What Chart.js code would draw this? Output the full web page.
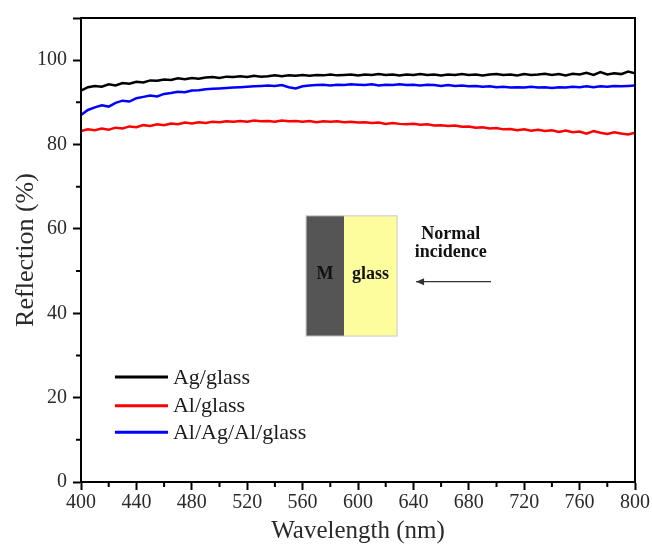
<!DOCTYPE html>
<html lang="en">
<head>
    <meta charset="UTF-8">
    <title>Reflection spectra</title>
    <script src="https://cdn.jsdelivr.net/npm/chart.js"></script>
    <style>
        body { margin: 0; background: #fff; }
        #chart { display: block; }
    </style>
</head>
<body>
    <canvas id="chart" width="652" height="546"></canvas>
    <script>
        // wavelength grid (nm)
        const wavelength = [
            400, 405, 410, 415, 420, 425, 430, 435, 440, 445, 450, 455, 460, 465, 470, 475, 480, 485, 490, 495,
            500, 505, 510, 515, 520, 525, 530, 535, 540, 545, 550, 555, 560, 565, 570, 575, 580, 585, 590, 595,
            600, 605, 610, 615, 620, 625, 630, 635, 640, 645, 650, 655, 660, 665, 670, 675, 680, 685, 690, 695,
            700, 705, 710, 715, 720, 725, 730, 735, 740, 745, 750, 755, 760, 765, 770, 775, 780, 785, 790, 795, 800
        ];

        const agGlass = [
            92.8, 93.6, 93.9, 93.7, 94.3, 94.0, 94.6, 94.4, 94.9, 94.7, 95.2, 95.1, 95.4, 95.3, 95.7, 95.5, 95.8, 95.6, 95.9, 96.0,
            95.8, 96.1, 96.0, 96.2, 96.0, 96.3, 96.1, 96.2, 96.4, 96.2, 96.4, 96.3, 96.5, 96.3, 96.5, 96.4, 96.6, 96.4, 96.5, 96.6,
            96.4, 96.6, 96.5, 96.7, 96.5, 96.6, 96.4, 96.6, 96.5, 96.7, 96.5, 96.6, 96.4, 96.6, 96.5, 96.7, 96.5, 96.6, 96.4, 96.6,
            96.7, 96.5, 96.6, 96.4, 96.7, 96.5, 96.6, 96.8, 96.5, 96.7, 96.4, 96.8, 96.6, 97.0, 96.5, 97.2, 96.6, 96.9, 96.7, 97.3, 96.9
        ];

        const alGlass = [
            83.2, 83.6, 83.4, 83.8, 83.5, 84.0, 83.8, 84.3, 84.1, 84.6, 84.4, 84.8, 84.6, 85.0, 84.8, 85.2, 85.0, 85.3, 85.1, 85.4,
            85.3, 85.5, 85.4, 85.6, 85.4, 85.7, 85.5, 85.6, 85.4, 85.7, 85.5, 85.6, 85.4, 85.6, 85.3, 85.5, 85.4, 85.5, 85.3, 85.4,
            85.2, 85.3, 85.1, 85.2, 84.9, 85.1, 84.9, 84.8, 84.9, 84.7, 84.8, 84.5, 84.6, 84.4, 84.5, 84.2, 84.3, 84.0, 84.1, 83.8,
            83.9, 83.6, 83.7, 83.4, 83.6, 83.3, 83.5, 83.2, 83.4, 83.0, 83.3, 82.9, 83.1, 82.6, 83.2, 82.8, 82.5, 82.9, 82.6, 82.4, 82.8
        ];

        const alAgAlGlass = [
            87.0, 88.2, 88.8, 89.3, 89.0, 89.9, 90.4, 90.2, 91.0, 91.3, 91.6, 91.4, 92.0, 92.2, 92.5, 92.4, 92.8, 92.9, 93.1, 93.2,
            93.3, 93.4, 93.5, 93.6, 93.7, 93.8, 93.9, 94.0, 93.9, 94.1, 93.6, 93.3, 93.8, 94.0, 94.1, 94.2, 94.0, 94.2, 94.1, 94.3,
            94.2, 94.1, 94.3, 94.0, 94.2, 94.1, 94.3, 94.1, 94.2, 94.0, 94.2, 94.1, 93.9, 94.1, 93.9, 94.0, 93.8, 93.9, 93.7, 93.8,
            93.6, 93.7, 93.5, 93.6, 93.5, 93.7, 93.5, 93.6, 93.4, 93.6, 93.5, 93.7, 93.6, 93.8, 93.6, 93.8, 93.7, 93.9, 93.8, 93.9, 94.0
        ];

        const seriesNames = ['Ag/glass', 'Al/glass', 'Al/Ag/Al/glass'];
        const seriesColors = ['#000000', '#ff0000', '#0000ff'];

        const serif = '"Liberation Serif", "Times New Roman", serif';

        function pts(ys) {
            return wavelength.map((x, i) => ({ x: x, y: ys[i] }));
        }

        // frame, minor ticks, legend and the inset sketch
        const extras = {
            id: 'extras',
            afterDraw(chart) {
                const c = chart.ctx;
                const xs = chart.scales.x, ys = chart.scales.y;
                const a = chart.chartArea;
                c.save();

                // box round the plot
                c.strokeStyle = '#000';
                c.lineWidth = 2;
                c.strokeRect(a.left, a.top, a.right - a.left, a.bottom - a.top);

                // minor ticks
                c.beginPath();
                for (let v = 420; v < 800; v += 40) {
                    const px = xs.getPixelForValue(v);
                    c.moveTo(px, a.bottom); c.lineTo(px, a.bottom + 5);
                }
                for (let v = 10; v < 110; v += 20) {
                    const py = ys.getPixelForValue(v);
                    c.moveTo(a.left, py); c.lineTo(a.left - 5, py);
                }
                c.stroke();

                // legend
                const legY = [24.9, 18.1, 11.8];
                c.font = '22px ' + serif;
                c.textBaseline = 'middle';
                c.textAlign = 'left';
                chart.data.datasets.forEach((ds, i) => {
                    const py = ys.getPixelForValue(legY[i]);
                    c.strokeStyle = ds.borderColor;
                    c.lineWidth = 3;
                    c.beginPath();
                    c.moveTo(xs.getPixelForValue(424.5), py);
                    c.lineTo(xs.getPixelForValue(462.8), py);
                    c.stroke();
                    c.fillStyle = '#1a1a1a';
                    c.fillText(ds.label, xs.getPixelForValue(466.4), py + 1);
                });

                // inset: metal / glass slab
                const x0 = xs.getPixelForValue(562.5), x1 = xs.getPixelForValue(589.9), x2 = xs.getPixelForValue(628.2);
                const yT = ys.getPixelForValue(63.1), yB = ys.getPixelForValue(34.6);
                c.fillStyle = '#555555';
                c.fillRect(x0, yT, x1 - x0, yB - yT);
                c.fillStyle = '#fdfd9e';
                c.fillRect(x1, yT, x2 - x1, yB - yT);
                c.strokeStyle = '#c8c8c8';
                c.lineWidth = 1;
                c.strokeRect(x0, yT, x2 - x0, yB - yT);

                c.font = 'bold 18px ' + serif;
                c.textAlign = 'center';
                c.fillStyle = '#111';
                const midY = ys.getPixelForValue(49.2);
                c.fillText('M', (x0 + x1) / 2, midY);
                c.fillText('glass', (x1 + x2) / 2, midY);
                c.fillText('Normal', xs.getPixelForValue(667), ys.getPixelForValue(58.6));
                c.fillText('incidence', xs.getPixelForValue(667), ys.getPixelForValue(54.4));

                // arrow
                const ay = ys.getPixelForValue(47.5);
                const ax0 = xs.getPixelForValue(696), ax1 = xs.getPixelForValue(641.9);
                c.strokeStyle = '#333';
                c.lineWidth = 1.2;
                c.beginPath();
                c.moveTo(ax0, ay); c.lineTo(ax1, ay);
                c.stroke();
                c.fillStyle = '#333';
                c.beginPath();
                c.moveTo(ax1, ay);
                c.lineTo(ax1 + 8, ay - 3.5);
                c.lineTo(ax1 + 8, ay + 3.5);
                c.closePath();
                c.fill();

                c.restore();
            }
        };

        new Chart(document.getElementById('chart'), {
            type: 'line',
            data: {
                datasets: [
                    { label: seriesNames[0], data: pts(agGlass), borderColor: seriesColors[0] },
                    { label: seriesNames[1], data: pts(alGlass), borderColor: seriesColors[1] },
                    { label: seriesNames[2], data: pts(alAgAlGlass), borderColor: seriesColors[2] }
                ]
            },
            options: {
                responsive: false,
                animation: false,
                layout: { padding: { left: 0, top: 14, right: 17, bottom: 0 } },
                elements: {
                    point: { radius: 0 },
                    line: { borderWidth: 2.5, tension: 0 }
                },
                plugins: {
                    legend: { display: false },
                    tooltip: { enabled: false }
                },
                scales: {
                    x: {
                        type: 'linear',
                        min: 400,
                        max: 800,
                        afterFit(s) { s.height = 64; },
                        ticks: {
                            stepSize: 40,
                            color: '#2a2a2a',
                            padding: 1,
                            maxRotation: 0,
                            font: { family: serif, size: 20 }
                        },
                        grid: { drawOnChartArea: false, tickLength: 8, tickWidth: 2, tickColor: '#000' },
                        border: { color: '#000', width: 2 },
                        title: {
                            display: true,
                            text: 'Wavelength (nm)',
                            color: '#2a2a2a',
                            padding: { top: 4, bottom: 0 },
                            font: { family: serif, size: 25 }
                        }
                    },
                    y: {
                        min: 0,
                        max: 110,
                        afterFit(s) { s.width = 81; },
                        ticks: {
                            stepSize: 20,
                            color: '#2a2a2a',
                            padding: 6,
                            font: { family: serif, size: 20 },
                            callback: v => (v % 20 === 0 && v <= 100) ? v : ''
                        },
                        grid: { drawOnChartArea: false, tickLength: 8, tickWidth: 2, tickColor: '#000' },
                        border: { color: '#000', width: 2 },
                        title: {
                            display: true,
                            text: 'Reflection (%)',
                            color: '#2a2a2a',
                            padding: { top: 11, bottom: 0 },
                            font: { family: serif, size: 26 }
                        }
                    }
                }
            },
            plugins: [extras]
        });
    </script>
</body>
</html>
